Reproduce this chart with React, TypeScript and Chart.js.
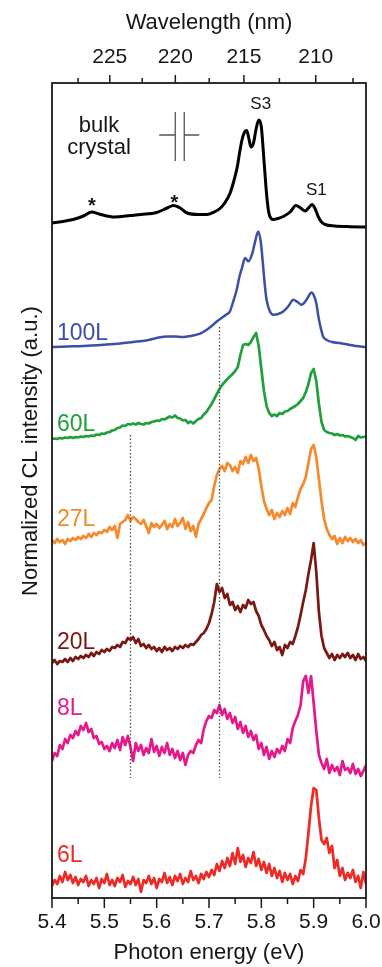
import React, { useEffect, useRef } from 'react';
import { Chart, registerables } from 'chart.js';

Chart.register(...registerables);

const HC = 1239.84; // eV·nm

// ---- axis ticks ----
const energyTicks = [5.4, 5.5, 5.6, 5.7, 5.8, 5.9, 6.0];
const energyMinorTicks = [5.45, 5.55, 5.65, 5.75, 5.85, 5.95];
const wavelengthTicks = [225, 220, 215, 210];
const wavelengthMinorTicks = [227.5, 222.5, 217.5, 212.5, 207.5];

// ---- photon energy grid for the thin-layer spectra (eV) ----
const energyGrid = [
  5.400, 5.405, 5.410, 5.415, 5.420, 5.425, 5.430, 5.435, 5.440, 5.445,
  5.450, 5.455, 5.460, 5.465, 5.470, 5.475, 5.480, 5.485, 5.490, 5.495,
  5.500, 5.505, 5.510, 5.515, 5.520, 5.525, 5.530, 5.535, 5.540, 5.545,
  5.550, 5.555, 5.560, 5.565, 5.570, 5.575, 5.580, 5.585, 5.590, 5.595,
  5.600, 5.605, 5.610, 5.615, 5.620, 5.625, 5.630, 5.635, 5.640, 5.645,
  5.650, 5.655, 5.660, 5.665, 5.670, 5.675, 5.680, 5.685, 5.690, 5.695,
  5.700, 5.705, 5.710, 5.715, 5.720, 5.725, 5.730, 5.735, 5.740, 5.745,
  5.750, 5.755, 5.760, 5.765, 5.770, 5.775, 5.780, 5.785, 5.790, 5.795,
  5.800, 5.805, 5.810, 5.815, 5.820, 5.825, 5.830, 5.835, 5.840, 5.845,
  5.850, 5.855, 5.860, 5.865, 5.870, 5.875, 5.880, 5.885, 5.890, 5.895,
  5.900, 5.905, 5.910, 5.915, 5.920, 5.925, 5.930, 5.935, 5.940, 5.945,
  5.950, 5.955, 5.960, 5.965, 5.970, 5.975, 5.980, 5.985, 5.990, 5.995,
  6.000,
];

// ---- bulk crystal spectrum ----
const bulkEnergy = [
  5.40, 5.42, 5.44, 5.46, 5.476, 5.49, 5.52, 5.55, 5.57, 5.60,
  5.62, 5.632, 5.645, 5.658, 5.68, 5.696, 5.71, 5.721, 5.73, 5.74,
  5.748, 5.754, 5.759, 5.763, 5.768, 5.772, 5.776, 5.78, 5.785, 5.79,
  5.795, 5.80, 5.805, 5.81, 5.814, 5.818, 5.822, 5.832, 5.842, 5.855,
  5.866, 5.875, 5.884, 5.89, 5.897, 5.903, 5.909, 5.915, 5.922, 5.94,
  5.97, 6.00,
];
const bulkIntensity = [
  4, 5.5, 7.5, 11, 15, 13, 10, 11.5, 12.5, 14.5,
  19, 21.5, 19, 14, 12.5, 12.5, 15, 18.5, 24, 33.5,
  47, 60, 76, 87, 95, 96.5, 89, 80, 84, 98,
  107, 100, 67, 33, 15, 9, 7.5, 8.5, 10.5, 15,
  21.5, 19, 16, 19, 22.5, 18, 10, 5, 2.5, 1,
  0.3, 0,
];

// ---- 100L spectrum ----
const energy100L = [
  5.40, 5.43, 5.46, 5.50, 5.53, 5.555, 5.58, 5.60, 5.62, 5.635,
  5.65, 5.665, 5.683, 5.695, 5.708, 5.716, 5.724, 5.732, 5.74, 5.746,
  5.753, 5.758, 5.763, 5.769, 5.775, 5.782, 5.788, 5.794, 5.799, 5.804,
  5.807, 5.81, 5.816, 5.823, 5.832, 5.842, 5.852, 5.861, 5.869, 5.877,
  5.886, 5.896, 5.90, 5.905, 5.909, 5.914, 5.918, 5.925, 5.935, 5.95,
  5.965, 5.98, 6.00,
];
const intensity100L = [
  0, 0.5, 1, 2.3, 3.5, 5, 6.5, 9, 10.6, 10.5,
  10, 11, 13.3, 17, 22.3, 26, 29, 32, 35.6, 45,
  57.3, 70, 79, 89, 85.6, 92.3, 105, 115.6, 105, 77.3,
  60, 47.3, 36, 32.3, 33, 35.6, 41, 47.3, 45, 42.3,
  47, 54.6, 52, 44, 30.6, 18, 10.6, 7, 5, 4,
  2.5, 1, 0,
];

// ---- thin-layer spectra on energyGrid ----
const intensity60L = [
  0, 0.5, 0, 1, 0.5, 1.5, 1, 2, 1, 2,
  1.5, 2.5, 2, 3, 2.5, 3.5, 3, 4.5, 4, 5.5,
  5, 6.5, 7, 8.5, 9, 11, 11.5, 13.5, 13, 15,
  14.5, 15.5, 14.5, 16, 15, 14.5, 16, 15.5, 17, 17.5,
  18.5, 18, 20, 19.5, 21, 22.5, 21.5, 23.5, 21, 20.5,
  18.5, 19, 16, 17.5, 15.5, 18, 20, 21, 24.5, 27,
  31, 35, 40, 45, 50, 54, 57, 60, 62.5, 65,
  68, 72, 84, 94, 95, 94, 97, 102, 106, 93,
  70, 48, 33, 26, 23, 24.5, 23, 26, 25, 27.5,
  28, 30, 31.5, 33, 35, 38, 41, 47, 55, 66,
  70, 58, 35, 17, 9, 7, 6, 5.5, 4, 5,
  3.5, 4, 2.5, 3, 2, 1, -1, 3, 1.5, 2,
  2.5,
];
const intensity27L = [
  1, -2, 2, -1, 1, -3, 2, 0, 3, 1,
  4, 2, 5, 3, 7, 4, 8, 6, 9, 8,
  11, 9, 14, 11, 15, 3, 17, 19, 21, 26,
  20, 24, 22, 19, 17, 21, 15, 8, 18, 14,
  17, 13, 16, 20, 12, 17, 14, 22, 15, 18,
  23, 12, 19, 10, 15, 4, 17, 22, 27, 33,
  38, 41, 55, 66, 72, 75, 70, 78, 76, 70,
  74, 68, 80, 77, 84, 78, 86, 80, 83, 72,
  55, 40, 32, 26, 31, 22, 28, 24, 30, 26,
  33, 27, 38, 34, 44, 52, 57, 64, 78, 92,
  96, 84, 62, 40, 22, 12, 6, 2, 5, -3,
  3, -2, 4, 0, 3, -1, 2, -2, 1, -4,
  -2,
];
const intensity20L = [
  -3, 0, -4, -1, -2, 1, -2, 2, -1, 3,
  1, 4, 2, 5, 3, 7, 4, 8, 6, 10,
  8, 11, 9, 13, 12, 15, 13, 18, 17, 22,
  20, 23, 17, 21, 14, 16, 12, 15, 11, 13,
  9, 12, 8, 13, 10, 12, 9, 13, 11, 14,
  12, 15, 13, 16, 15, 18, 21, 25, 27, 31,
  37, 46, 58, 76, 68, 72, 62, 66, 55, 58,
  50, 54, 48, 55, 52, 60, 56, 58, 49, 44,
  35, 30, 24, 20, 14, 18, 10, 13, 5, 15,
  12, 18, 16, 24, 33, 45, 58, 70, 86, 100,
  117, 88, 48, 24, 12, 7, 2, 6, 0, 5,
  2, 6, 3, 7, 2, 5, 0, 6, 1, 3,
  -1,
];
const intensity8L = [
  12, 20, 17, 28, 24, 34, 30, 38, 35, 42,
  38, 47, 43, 50, 41, 44, 35, 37, 29, 31,
  24, 27, 22, 30, 25, 33, 23, 36, 28, 37,
  26, 12, 30, 22, 28, 18, 25, 20, 34, 21,
  27, 17, 26, 20, 30, 18, 24, 15, 22, 13,
  20, 8, 18, 22, 20, 28, 33, 30, 44, 52,
  57, 55, 63, 60, 68, 58, 64, 54, 60, 50,
  56, 44, 51, 40, 47, 36, 42, 33, 38, 24,
  30, 18, 26, 14, 22, 16, 24, 20, 27, 22,
  34, 30, 45, 52, 58, 68, 92, 97, 80, 97,
  70, 42, 18, 10, 4, 14, 0, 8, 2, 6,
  -2, 12, 3, 5, 0, 9, -1, 4, -3, 2,
  8,
];
const intensity6L = [
  2, 8, 4, 12, 6, 16, 8, 13, 5, 11,
  3, 9, 6, 12, 2, 8, 4, 10, 0, 9,
  5, 14, 3, 8, 2, 10, 6, 13, 1, 7,
  4, 11, 3, 9, -4, 8, 5, 12, 4, 10,
  0, 9, 6, 15, 5, 11, 3, 12, 7, 14,
  4, 10, 6, 17, 8, 12, 5, 14, 9, 16,
  11, 18, 13, 24, 17, 27, 20, 30, 22, 35,
  24, 40, 26, 33, 21, 30, 25, 36, 22, 29,
  18, 26, 15, 24, 12, 20, 10, 17, 6, 15,
  8, 14, 4, 12, 7, 18, 14, 30, 55, 82,
  100, 98, 70, 48, 44, 50, 35, 42, 20, 28,
  12, 20, 8, 15, 10, 18, 6, 12, 0, 16,
  4,
];

// ---- series metadata ----
const seriesNames = ['bulk crystal', '100L', '60L', '27L', '20L', '8L', '6L'];
const seriesOffsets = [671, 551, 459, 357, 238, 125, 10];
const seriesColors = ['#000000', '#3a4fa6', '#20a03a', '#f5892b', '#7a1712', '#e6198b', '#ee2a26'];
const seriesEnergies = [bulkEnergy, energy100L, energyGrid, energyGrid, energyGrid, energyGrid, energyGrid];
const seriesIntensities = [bulkIntensity, intensity100L, intensity60L, intensity27L, intensity20L, intensity8L, intensity6L];

// ---- guide lines (eV, from / to in plot units) ----
const guideEnergies = [5.55, 5.72];
const guideTops = [463, 571];
const guideBottoms = [120, 120];

const FONT = '"Liberation Sans", Arial, Helvetica, sans-serif';
const TEXT = '#151515';

const decorPlugin = {
  id: 'decor',
  afterDatasetsDraw(chart: any) {
    const { ctx, chartArea } = chart;
    const x = chart.scales.x;
    const y = chart.scales.y;
    const px = (e: number) => x.getPixelForValue(e);
    const py = (v: number) => y.getPixelForValue(v);
    ctx.save();

    // dotted guide lines
    ctx.strokeStyle = '#444';
    ctx.lineWidth = 1.3;
    ctx.setLineDash([1.4, 2.2]);
    guideEnergies.forEach((e, i) => {
      ctx.beginPath();
      ctx.moveTo(Math.round(px(e)) + 0.5, py(guideTops[i]));
      ctx.lineTo(Math.round(px(e)) + 0.5, py(guideBottoms[i]));
      ctx.stroke();
    });
    ctx.setLineDash([]);

    // frame
    ctx.strokeStyle = '#1a1a1a';
    ctx.lineWidth = 1.8;
    ctx.strokeRect(chartArea.left, chartArea.top, chartArea.right - chartArea.left, chartArea.bottom - chartArea.top);

    // bottom ticks (outward)
    ctx.lineWidth = 1.5;
    energyTicks.forEach((e) => {
      ctx.beginPath();
      ctx.moveTo(px(e), chartArea.bottom);
      ctx.lineTo(px(e), chartArea.bottom + 10);
      ctx.stroke();
    });
    energyMinorTicks.forEach((e) => {
      ctx.beginPath();
      ctx.moveTo(px(e), chartArea.bottom);
      ctx.lineTo(px(e), chartArea.bottom + 6);
      ctx.stroke();
    });
    // top ticks (outward)
    wavelengthTicks.forEach((w) => {
      ctx.beginPath();
      ctx.moveTo(px(HC / w), chartArea.top);
      ctx.lineTo(px(HC / w), chartArea.top - 8);
      ctx.stroke();
    });
    wavelengthMinorTicks.forEach((w) => {
      ctx.beginPath();
      ctx.moveTo(px(HC / w), chartArea.top);
      ctx.lineTo(px(HC / w), chartArea.top - 5);
      ctx.stroke();
    });

    // series labels
    ctx.textBaseline = 'alphabetic';
    ctx.font = `23px ${FONT}`;
    ctx.textAlign = 'left';
    const labelBase = [0, 558, 467, 372, 249, 183, 36];
    for (let i = 1; i < seriesNames.length; i++) {
      ctx.fillStyle = seriesColors[i];
      ctx.fillText(seriesNames[i], chartArea.left + 5, py(labelBase[i]));
    }

    // bulk crystal label
    ctx.fillStyle = TEXT;
    ctx.textAlign = 'center';
    ctx.font = `22px ${FONT}`;
    ctx.fillText('bulk', px(5.4898), py(766));
    ctx.fillText('crystal', px(5.4898), py(744));

    // peak labels
    ctx.font = `17px ${FONT}`;
    ctx.fillText('S3', px(5.7988), py(789));
    ctx.fillText('S1', px(5.905), py(703));
    ctx.font = `bold 20px ${FONT}`;
    ctx.fillText('*', px(5.476), py(686));
    ctx.fillText('*', px(5.634), py(689));

    // layer symbol
    ctx.strokeStyle = '#555';
    ctx.lineWidth = 1.3;
    const xa = px(5.6355);
    const xb = px(5.6527);
    const yt = py(786);
    const yb = py(737);
    const ym = py(763);
    ctx.beginPath();
    ctx.moveTo(xa, yt); ctx.lineTo(xa, yb);
    ctx.moveTo(xb, yt); ctx.lineTo(xb, yb);
    ctx.moveTo(xa - 16, ym); ctx.lineTo(xa, ym);
    ctx.moveTo(xb, ym); ctx.lineTo(xb + 15, ym);
    ctx.stroke();

    // y-axis title
    ctx.fillStyle = TEXT;
    ctx.font = `22px ${FONT}`;
    ctx.translate(37, 451);
    ctx.rotate(-Math.PI / 2);
    ctx.textAlign = 'center';
    ctx.fillText('Normalized CL intensity (a.u.)', 0, 0);

    ctx.restore();
  },
};

export default function App() {
  const canvasRef = useRef<HTMLCanvasElement | null>(null);

  useEffect(() => {
    const canvas = canvasRef.current;
    if (!canvas) return;
    const datasets = seriesNames.map((name, i) => ({
      label: name,
      data: seriesEnergies[i].map((e, k) => ({ x: e, y: seriesOffsets[i] + seriesIntensities[i][k] })),
      borderColor: seriesColors[i],
      borderWidth: i === 0 ? 3 : i === 1 ? 2.5 : 2.7,
      pointRadius: 0,
      fill: false,
      tension: 0,
      cubicInterpolationMode: (i < 2 ? 'monotone' : 'default') as any,
      borderJoinStyle: 'round' as const,
    }));

    const chart = new Chart(canvas, {
      type: 'line',
      data: { datasets },
      options: {
        animation: false,
        responsive: false,
        devicePixelRatio: 1,
        layout: { padding: { left: 52, right: 16, top: 0, bottom: 0 } },
        plugins: { legend: { display: false }, tooltip: { enabled: false } },
        scales: {
          x: {
            type: 'linear',
            position: 'bottom',
            min: 5.4,
            max: 6.0,
            grid: { display: false, drawTicks: false },
            border: { display: false },
            afterBuildTicks: (s: any) => {
              s.ticks = energyTicks.map((v) => ({ value: v }));
            },
            afterFit: (s: any) => {
              s.height = 69;
              s.paddingLeft = 0;
              s.paddingRight = 0;
            },
            ticks: {
              autoSkip: false,
              maxRotation: 0,
              padding: 12,
              color: TEXT,
              font: { family: FONT, size: 21, lineHeight: 1.2 },
              callback: (v: any) => Number(v).toFixed(1),
            },
            title: {
              display: true,
              text: 'Photon energy (eV)',
              color: TEXT,
              font: { family: FONT, size: 22, lineHeight: 1.2 },
              padding: { top: 0, bottom: 1 },
            },
          },
          x2: {
            type: 'linear',
            position: 'top',
            min: 5.4,
            max: 6.0,
            grid: { display: false, drawTicks: false },
            border: { display: false },
            afterBuildTicks: (s: any) => {
              s.ticks = wavelengthTicks.map((w) => ({ value: HC / w }));
            },
            afterFit: (s: any) => {
              s.height = 83;
              s.paddingLeft = 0;
              s.paddingRight = 0;
            },
            ticks: {
              autoSkip: false,
              maxRotation: 0,
              padding: 13,
              color: TEXT,
              font: { family: FONT, size: 21, lineHeight: 1.2 },
              callback: (v: any) => String(Math.round(HC / Number(v))),
            },
            title: {
              display: true,
              text: 'Wavelength (nm)',
              color: TEXT,
              font: { family: FONT, size: 22, lineHeight: 1.2 },
              padding: { top: 10, bottom: 0 },
            },
          },
          y: { type: 'linear', min: 0, max: 815, display: false },
        },
      },
      plugins: [decorPlugin],
    });
    return () => chart.destroy();
  }, []);

  return (
    <div style={{ position: 'absolute', left: 0, top: 0, width: 382, height: 967, background: '#fff' }}>
      <canvas ref={canvasRef} width={382} height={967} style={{ display: 'block', width: 382, height: 967 }} />
    </div>
  );
}
